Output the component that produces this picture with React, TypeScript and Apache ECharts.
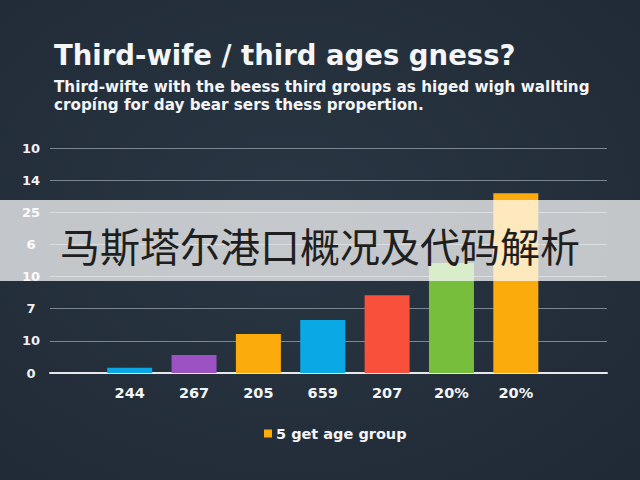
import React, { useEffect, useRef } from "react";
import * as echarts from "echarts";

const titleText = "Third-wife / third ages gness?";
const subtitleLines = [
  "Third-wifte with the beess third groups as higed wigh wallting",
  "cropíng for day bear sers thess propertion.",
];
const categories = ["244", "267", "205", "659", "207", "20%", "20%"];
const values = [0.16, 0.56, 1.21, 1.65, 2.42, 3.42, 5.59];
const barColors = ["#0ba6e4", "#9c52c2", "#fbab0b", "#0aa9e6", "#f8503a", "#78be3d", "#fbab0b"];
const yTickLabels = ["0", "10", "7", "10", "6", "25", "14", "10"];
const legendName = "5 get age group";
const bannerText = "马斯塔尔港口概况及代码解析";

const LATIN = "'DejaVu Sans', 'Liberation Sans', sans-serif";

export default function App() {
  const ref = useRef<HTMLDivElement>(null);
  useEffect(() => {
    if (!ref.current) return;
    const chart = echarts.init(ref.current, undefined, { renderer: "svg" });
    chart.setOption({
      animation: false,
      backgroundColor: {
        type: "radial",
        x: 0.45,
        y: 0.45,
        r: 0.8,
        colorStops: [
          { offset: 0, color: "#2a3643" },
          { offset: 1, color: "#1f2935" },
        ],
      },
      title: {
        text: titleText,
        subtext: subtitleLines.join("\n"),
        left: 54,
        top: 41,
        padding: 0,
        itemGap: 9,
        textStyle: {
          color: "#f4f5f6",
          fontFamily: LATIN,
          fontWeight: "bold",
          fontSize: 27.5,
          lineHeight: 28,
        },
        subtextStyle: {
          color: "#f4f5f6",
          fontFamily: LATIN,
          fontWeight: "bold",
          fontSize: 15.2,
          lineHeight: 18,
        },
      },
      legend: {
        data: [legendName],
        left: 259,
        top: 421,
        itemWidth: 8,
        itemHeight: 8,
        itemGap: 6,
        icon: "rect",
        textStyle: {
          color: "#f4f5f6",
          fontFamily: LATIN,
          fontWeight: "bold",
          fontSize: 14.5,
          padding: [0, 0, 0, -1],
        },
      },
      grid: [
        { left: 50, right: 33, top: 148, bottom: 107 },
        { left: 97.5, right: 92, top: 148, bottom: 107 },
      ],
      xAxis: [
        {
          gridIndex: 0,
          type: "value",
          min: 0,
          max: 1,
          axisLine: { show: true, lineStyle: { color: "#e6e9ec", width: 2 } },
          axisTick: { show: false },
          axisLabel: { show: false },
          splitLine: { show: false },
        },
        {
          gridIndex: 1,
          type: "category",
          data: categories,
          axisLine: { show: false },
          axisTick: { show: false },
          axisLabel: {
            color: "#f4f5f6",
            fontFamily: LATIN,
            fontWeight: "bold",
            fontSize: 14.5,
            margin: 12,
          },
        },
      ],
      yAxis: [
        {
          gridIndex: 0,
          type: "value",
          min: 0,
          max: 7,
          interval: 1,
          axisLine: { show: false },
          axisTick: { show: false },
          axisLabel: {
            color: "#eef0f2",
            fontFamily: LATIN,
            fontWeight: "bold",
            fontSize: 13,
            align: "center",
            margin: 19,
            formatter: (v: number) => yTickLabels[Math.round(v)] ?? "",
          },
          splitLine: { show: true, lineStyle: { color: "#7c8690", width: 1 } },
        },
        {
          gridIndex: 1,
          type: "value",
          min: 0,
          max: 7,
          interval: 1,
          show: false,
          splitLine: { show: false },
        },
      ],
      series: [
        {
          name: legendName,
          type: "bar",
          xAxisIndex: 1,
          yAxisIndex: 1,
          barWidth: 45,
          itemStyle: { color: "#fbab0b" },
          data: values.map((v, i) => ({ value: v, itemStyle: { color: barColors[i] } })),
        },
      ],
      graphic: [
        {
          type: "rect",
          z: 100,
          shape: { x: 0, y: 200, width: 640, height: 81 },
          style: { fill: "rgba(255,255,255,0.73)" },
        },
        {
          type: "text",
          z: 101,
          x: 60,
          y: 245,
          style: {
            text: bannerText,
            fill: "#1f1f1f",
            fontFamily: "'Noto Sans CJK SC', sans-serif",
            fontSize: 40,
            verticalAlign: "middle",
            align: "left",
          },
        },
      ],
    });
    return () => chart.dispose();
  }, []);
  return (
    <div
      ref={ref}
      style={{ position: "absolute", left: 0, top: 0, width: 640, height: 480 }}
    />
  );
}
